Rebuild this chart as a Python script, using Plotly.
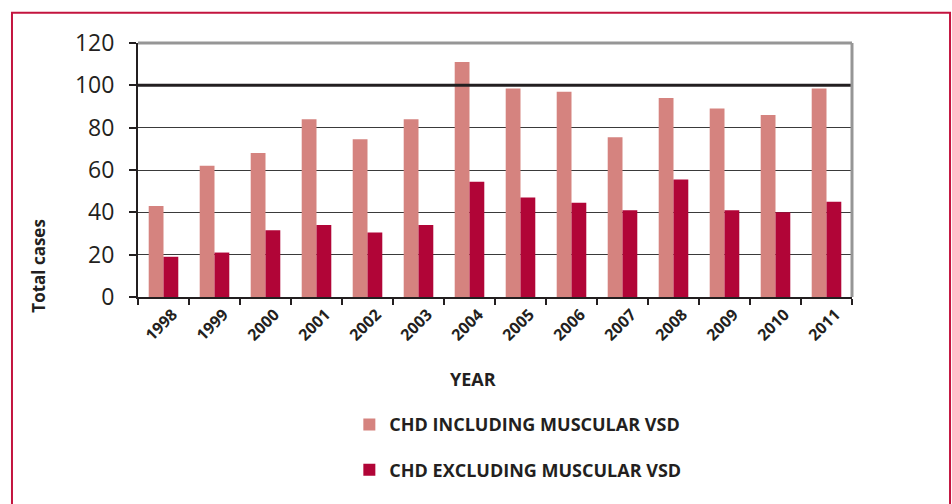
import plotly.graph_objects as go

years = ["1998", "1999", "2000", "2001", "2002", "2003", "2004",
         "2005", "2006", "2007", "2008", "2009", "2010", "2011"]
incl_muscular = [43, 62, 68, 84, 74.5, 84, 111, 98.5, 97, 75.5, 94, 89, 86, 98.5]
excl_muscular = [19, 21, 31.5, 34, 30.5, 34, 54.5, 47, 44.5, 41, 55.5, 41, 40, 45]
series_names = ["CHD INCLUDING MUSCULAR VSD", "CHD EXCLUDING MUSCULAR VSD"]
y_ticks = [0, 20, 40, 60, 80, 100, 120]

PINK = "#D5837F"
CRIMSON = "#B10537"
FRAME = "#C3143F"
FONT = "Open Sans"

fig = go.Figure()
fig.add_trace(go.Bar(x=years, y=incl_muscular, name=series_names[0],
                     marker=dict(color=PINK, line=dict(width=0)),
                     legendgroup="a"))
fig.add_trace(go.Bar(x=years, y=excl_muscular, name=series_names[1],
                     marker=dict(color=CRIMSON, line=dict(width=0)),
                     legendgroup="b"))

fig.update_layout(
    width=952, height=504,
    margin=dict(l=138, r=100, t=43, b=207),
    paper_bgcolor="white", plot_bgcolor="white",
    barmode="group", bargap=0.42, bargroupgap=0.0,
    font=dict(family=FONT, color="#231F20"),
    showlegend=True,
    legend=dict(x=0.296, y=-0.43, xanchor="left", yanchor="top",
                traceorder="grouped", tracegroupgap=19,
                font=dict(family=FONT, size=18, color="#231F20", weight="bold"),
                bgcolor="rgba(0,0,0,0)"),
)

fig.update_xaxes(
    type="category", showline=True, linecolor="#231F20", linewidth=2,
    ticks="outside", tickson="boundaries", ticklen=6, tickcolor="#231F20",
    tickwidth=2, tickangle=-45, showgrid=False, ticklabelshift=9,
    tickfont=dict(family=FONT, size=16, color="#231F20", weight="bold"),
)
fig.update_yaxes(
    range=[0, 120], tickvals=y_ticks, showline=True, linecolor="#231F20",
    linewidth=2, ticks="outside", ticklen=7, tickcolor="#231F20", tickwidth=2,
    showgrid=True, gridcolor="#3a3a3a", gridwidth=1, zeroline=False,
    ticklabelstandoff=10,
    tickfont=dict(family=FONT, size=23, color="#231F20"),
)

# reference line at 100, plot frame (top/right), outer red frame
fig.add_shape(type="line", xref="paper", yref="y", x0=0, x1=1, y0=100, y1=100,
              line=dict(color="#231F20", width=3))
fig.add_shape(type="line", xref="paper", yref="paper", x0=0, x1=1, y0=1, y1=1,
              line=dict(color="#969696", width=3))
fig.add_shape(type="line", xref="paper", yref="paper", x0=1, x1=1, y0=0, y1=1,
              line=dict(color="#969696", width=3))
fig.add_shape(type="rect", xref="paper", yref="paper",
              x0=-0.1765, x1=1.1373, y0=-0.9, y1=1.1195,
              line=dict(color=FRAME, width=2), layer="below")

fig.add_annotation(text="Total cases", xref="paper", yref="paper",
                   x=-0.1394, y=0.125, xanchor="center", yanchor="middle",
                   textangle=-90, showarrow=False,
                   font=dict(family=FONT, size=17, color="#231F20", weight="bold"))
fig.add_annotation(text="YEAR", xref="paper", yref="paper",
                   x=0.469, y=-0.324, xanchor="center", yanchor="middle",
                   showarrow=False,
                   font=dict(family=FONT, size=18, color="#231F20", weight="bold"))

fig.write_html(
    "out.html",
    config={"displayModeBar": False},
    post_script="document.body.style.margin='0';document.body.style.overflow='hidden';",
)
